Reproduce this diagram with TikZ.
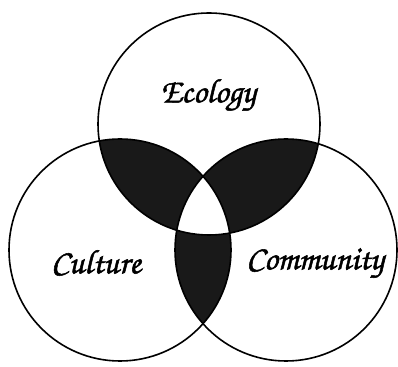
\documentclass[tikz,border=0pt]{standalone}
\usepackage{fontspec}
\usepackage{tikz}
\newfontfamily\vennfam{texgyrechorus-mediumitalic.otf}[FakeBold=1.5]
\tikzset{
  ring/.style={draw=black, line width=1.6pt},
  lens/.style={fill=black!90},
  lab/.style={font=\vennfam\fontsize{34}{38}\selectfont, inner sep=1pt},
}

\begin{document}
\begin{tikzpicture}[x=1pt,y=1pt]
\useasboundingbox (0,0) rectangle (398,366);
\def\R{111}
\coordinate (eco) at (209,242);
\coordinate (cul) at (120,116);
\coordinate (com) at (286,116);
% pairwise overlaps in black
\begin{scope}
  \clip (eco) circle (\R);
  \fill[lens] (cul) circle (\R);
  \fill[lens] (com) circle (\R);
\end{scope}
\begin{scope}
  \clip (cul) circle (\R);
  \fill[lens] (com) circle (\R);
\end{scope}
% centre of all three stays white
\begin{scope}
  \clip (eco) circle (\R);
  \clip (cul) circle (\R);
  \fill[white] (com) circle (\R);
\end{scope}
% rings
\draw[ring] (eco) circle (\R);
\draw[ring] (cul) circle (\R);
\draw[ring] (com) circle (\R);
% labels
\node[lab] (ecology) at (208,271) {Ecology};
\node[lab] (culture) at (96,103) {Culture};
\node[lab] (community) at (315,103) {Community};
\end{tikzpicture}
\end{document}
